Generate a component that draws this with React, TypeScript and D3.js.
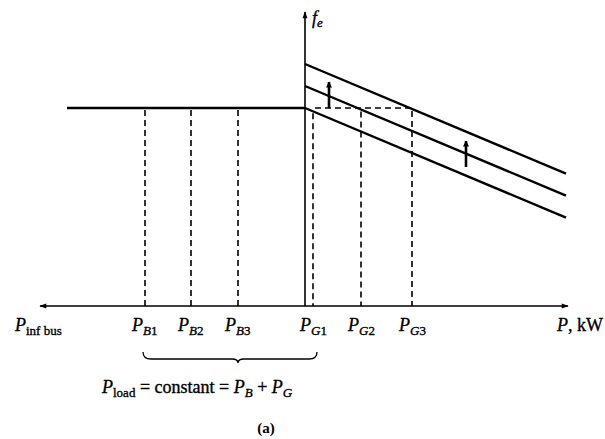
import React from "react";
import * as d3 from "d3";

// Power axis (schematic units, 0 = frequency axis)
const pAxisRange = [-265, 263];
const fAxisRange = [0, 294];
const busFreq = 198;
const busStartP = -238;
const lineEndP = 261;
const noLoadFreqs = [198, 220, 242];
const droopSlope = 0.42;
const busPoints = [-160, -114, -67];
const genPoints = [8, 56, 107];
const busLabels = ["B1", "B2", "B3"];
const genLabels = ["G1", "G2", "G3"];
const arrowPs = [24, 161];
const arrowFrom = [198, 139];
const arrowTo = [224, 165];

const W = 605;
const H = 439;

export default function App() {
  const x = d3.scaleLinear().domain(pAxisRange).range([40, 568]);
  const y = d3.scaleLinear().domain(fAxisRange).range([306, 12]);
  const lineF = (i: number, p: number) => noLoadFreqs[i] - droopSlope * p;

  const font = "'Liberation Serif', 'Times New Roman', serif";
  const x0 = x(0);
  const yAxis = y(0);
  const ts = { stroke: "#000", strokeWidth: 0.35 } as const;

  const bracePath = (() => {
    const a = x(busPoints[0]) - 2;
    const b = x(genPoints[0]) + 4;
    const m = x(busPoints[2]);
    const top = 352;
    const mid = 359;
    const tip = 363;
    const p = d3.path();
    p.moveTo(a, top);
    p.quadraticCurveTo(a, mid, a + 8, mid);
    p.lineTo(m - 6, mid);
    p.quadraticCurveTo(m, mid, m, tip);
    p.quadraticCurveTo(m, mid, m + 6, mid);
    p.lineTo(b - 8, mid);
    p.quadraticCurveTo(b, mid, b, top);
    return p.toString();
  })();

  const label = (px: number, sub: string, key: string) => (
    <text key={key} x={x(px) - 13} y={331} fontFamily={font} fontSize={18} fill="#000" {...ts}>
      <tspan fontStyle="italic">P</tspan>
      <tspan fontSize={13} dy={4} fontStyle="italic">{sub[0]}</tspan>
      <tspan fontSize={13}>{sub.slice(1)}</tspan>
    </text>
  );

  return (
    <svg width={W} height={H} style={{ position: "absolute", left: 0, top: 0, background: "#fff" }}>
      <defs>
        <marker id="ah" viewBox="0 0 10 10" refX="9" refY="5" markerWidth="9" markerHeight="7" markerUnits="userSpaceOnUse" orient="auto">
          <path d="M0,1.5 L10,5 L0,8.5 Z" fill="#000" />
        </marker>
        <marker id="ah2" viewBox="0 0 10 10" refX="9" refY="5" markerWidth="9" markerHeight="6" markerUnits="userSpaceOnUse" orient="auto">
          <path d="M0,0 L10,5 L0,10 Z" fill="#000" />
        </marker>
      </defs>

      {/* Axes */}
      <line x1={x(0)} x2={x(pAxisRange[0])} y1={yAxis} y2={yAxis} stroke="#000" strokeWidth={1.6} markerEnd="url(#ah)" />
      <line x1={x(0)} x2={x(pAxisRange[1])} y1={yAxis} y2={yAxis} stroke="#000" strokeWidth={1.6} markerEnd="url(#ah)" />
      <line x1={x0} x2={x0} y1={yAxis} y2={y(fAxisRange[1])} stroke="#000" strokeWidth={1.6} markerEnd="url(#ah)" />

      {/* Infinite bus line */}
      <line x1={x(busStartP)} x2={x0} y1={y(busFreq)} y2={y(busFreq)} stroke="#000" strokeWidth={2.4} />

      {/* Dashed verticals */}
      {busPoints.map((p, i) => (
        <line key={"b" + i} x1={x(p)} x2={x(p)} y1={y(busFreq) + 2} y2={yAxis} stroke="#000" strokeWidth={1.6} strokeDasharray="6,4" />
      ))}
      {genPoints.map((p, i) => (
        <line key={"g" + i} x1={x(p)} x2={x(p)} y1={y(Math.min(lineF(i, p), busFreq)) + 2} y2={yAxis} stroke="#000" strokeWidth={1.6} strokeDasharray="6,4" />
      ))}
      <line x1={x(genPoints[0]) + 2} x2={x(genPoints[2])} y1={y(busFreq)} y2={y(busFreq)} stroke="#000" strokeWidth={1.6} strokeDasharray="6,4" />

      {/* Generator droop lines */}
      {noLoadFreqs.map((f, i) => (
        <line key={"l" + i} x1={x0} x2={x(lineEndP)} y1={y(f)} y2={y(lineF(i, lineEndP))} stroke="#000" strokeWidth={2.4} />
      ))}

      {/* Shift arrows */}
      {arrowPs.map((p, i) => (
        <line key={"a" + i} x1={x(p)} x2={x(p)} y1={y(arrowFrom[i])} y2={y(arrowTo[i])} stroke="#000" strokeWidth={2.6} markerEnd="url(#ah2)" />
      ))}

      {/* Axis labels */}
      <text x={x0 + 7} y={24} fontFamily={font} fontSize={18} fontStyle="italic" fill="#000" {...ts}>
        f<tspan fontSize={13} dy={3}>e</tspan>
      </text>
      <text x={15} y={331} fontFamily={font} fontSize={18} fill="#000" {...ts}>
        <tspan fontStyle="italic">P</tspan>
        <tspan fontSize={13} dy={4}>inf bus</tspan>
      </text>
      {busPoints.map((p, i) => label(p, busLabels[i], "lb" + i))}
      {genPoints.map((p, i) => label(p, genLabels[i], "lg" + i))}
      <text x={603} y={331} textAnchor="end" fontFamily={font} fontSize={18} fill="#000" {...ts}>
        <tspan fontStyle="italic">P</tspan>, kW
      </text>

      {/* Brace */}
      <path d={bracePath} fill="none" stroke="#000" strokeWidth={1.3} />

      <text x={102} y={393} fontFamily={font} fontSize={18} fill="#000" {...ts}>
        <tspan fontStyle="italic">P</tspan>
        <tspan fontSize={13} dy={4}>load</tspan>
        <tspan dy={-4}> = constant = </tspan>
        <tspan fontStyle="italic">P</tspan>
        <tspan fontSize={13} dy={4} fontStyle="italic">B</tspan>
        <tspan dy={-4}> + </tspan>
        <tspan fontStyle="italic">P</tspan>
        <tspan fontSize={13} dy={4} fontStyle="italic">G</tspan>
      </text>

      <text x={266} y={433} textAnchor="middle" fontFamily={font} fontSize={15} fontWeight="bold" fill="#000">
        (a)
      </text>
    </svg>
  );
}
